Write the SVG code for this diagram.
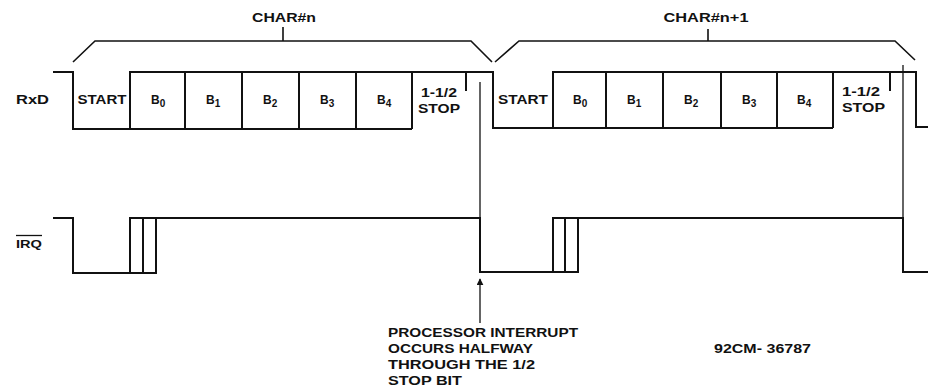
<svg xmlns="http://www.w3.org/2000/svg" width="928" height="391" viewBox="0 0 928 391">
<style>
.w{fill:none;stroke:#111;stroke-width:2;stroke-linejoin:miter}
.b{fill:none;stroke:#111;stroke-width:1.6}
.t{fill:none;stroke:#111;stroke-width:1.3}
text{font-family:"Liberation Sans",Arial,sans-serif;font-weight:bold;fill:#111}
.l{font-size:12px}
.s{font-size:10px}
.c{text-anchor:middle}
</style>
<defs>
<marker id="ah" viewBox="0 0 10 10" refX="9" refY="5" markerWidth="7" markerHeight="7" orient="auto" markerUnits="userSpaceOnUse">
<path d="M0,0 L10,5 L0,10 z" fill="#111"/>
</marker>
</defs>
<rect width="928" height="391" fill="#fff"/>

<g id="brace-n">
<path class="b" d="M73,62 L95,41 L471,41 L492,62 M283,27 L283,41"/>
<text class="l c" x="284" y="22" textLength="64" lengthAdjust="spacingAndGlyphs">CHAR#n</text>
</g>
<g id="brace-n1">
<path class="b" d="M495,62 L519,41 L895,41 L915,60 M708,29 L708,41"/>
<text class="l c" x="706" y="22" textLength="85" lengthAdjust="spacingAndGlyphs">CHAR#n+1</text>
</g>

<g id="rxd">
<text class="l" x="16" y="104" textLength="33" lengthAdjust="spacingAndGlyphs">RxD</text>
<path class="w" d="M53,72 L73,72 L73,129 L412,129 M130,129 L130,72 L493,72 L493,128 L833,128 M553,128 L553,72 L916,72 L916,127 L928,127"/>
<path class="w" d="M185,72 V129 M242,72 V129 M299,72 V129 M356,72 V129 M412,72 V129"/>
<path class="w" d="M606,72 V128 M663,72 V128 M721,72 V128 M777,72 V128 M833,72 V128"/>
<path class="w" d="M466,72 V91 M890,72 V91"/>
<text class="l c" x="102" y="104" textLength="49" lengthAdjust="spacingAndGlyphs">START</text>
<text class="l" x="151" y="104">B<tspan class="s" dy="3">0</tspan></text>
<text class="l" x="206" y="104">B<tspan class="s" dy="3">1</tspan></text>
<text class="l" x="263" y="104">B<tspan class="s" dy="3">2</tspan></text>
<text class="l" x="320" y="104">B<tspan class="s" dy="3">3</tspan></text>
<text class="l" x="377" y="104">B<tspan class="s" dy="3">4</tspan></text>
<text class="l" x="421" y="97" textLength="36" lengthAdjust="spacingAndGlyphs">1-1/2</text>
<text class="l" x="418" y="113" textLength="42" lengthAdjust="spacingAndGlyphs">STOP</text>
<text class="l c" x="523" y="104" textLength="50" lengthAdjust="spacingAndGlyphs">START</text>
<text class="l" x="573" y="104">B<tspan class="s" dy="3">0</tspan></text>
<text class="l" x="627" y="104">B<tspan class="s" dy="3">1</tspan></text>
<text class="l" x="684" y="104">B<tspan class="s" dy="3">2</tspan></text>
<text class="l" x="742" y="104">B<tspan class="s" dy="3">3</tspan></text>
<text class="l" x="797" y="104">B<tspan class="s" dy="3">4</tspan></text>
<text class="l" x="842" y="96" textLength="38" lengthAdjust="spacingAndGlyphs">1-1/2</text>
<text class="l" x="842" y="112" textLength="43" lengthAdjust="spacingAndGlyphs">STOP</text>
</g>

<g id="irq">
<text x="16" y="248" font-size="10" textLength="26" lengthAdjust="spacingAndGlyphs">IRQ</text>
<path class="t" d="M16,235.5 H42"/>
<path class="w" d="M53,218 L73,218 L73,273 L156,273 L156,218 L480,218 L480,272 L578,272 L578,218 L903,218 L903,272 L928,272"/>
<path class="w" d="M130,273 V218 H156 M143,218 V273"/>
<path class="w" d="M553,272 V218 H578 M565,218 V272"/>
</g>

<g id="connectors">
<path class="t" d="M480,82 V218"/>
<path class="t" d="M903,65 V218"/>
<path class="t" d="M480,323 V279" marker-end="url(#ah)"/>
</g>

<g id="note">
<text class="l" x="388" y="337" textLength="190" lengthAdjust="spacingAndGlyphs">PROCESSOR INTERRUPT</text>
<text class="l" x="388" y="353" textLength="145" lengthAdjust="spacingAndGlyphs">OCCURS HALFWAY</text>
<text class="l" x="388" y="369" textLength="147" lengthAdjust="spacingAndGlyphs">THROUGH THE 1/2</text>
<text class="l" x="388" y="385" textLength="74" lengthAdjust="spacingAndGlyphs">STOP BIT</text>
<text class="l" x="714" y="353" textLength="97" lengthAdjust="spacingAndGlyphs">92CM- 36787</text>
</g>
</svg>
